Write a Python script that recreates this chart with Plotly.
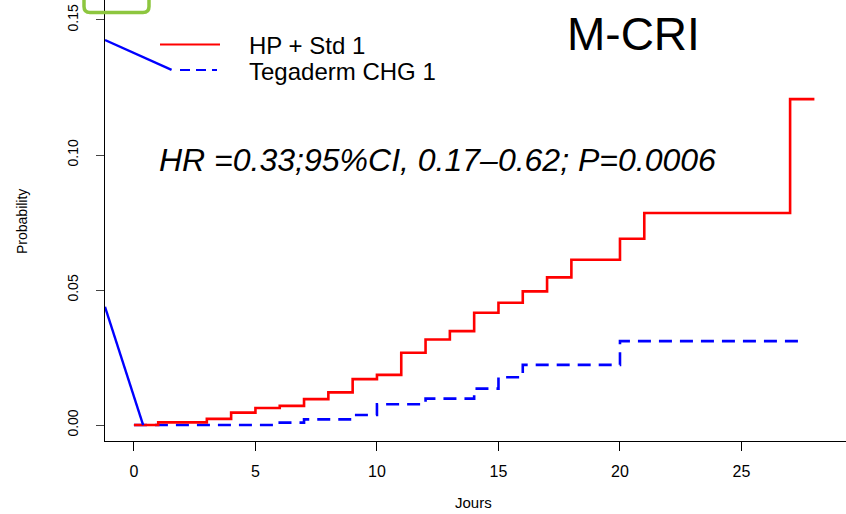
import plotly.graph_objects as go

# ---- data ----
red_days = [0, 1, 3, 4, 5, 6, 7, 8, 9, 10, 11, 12, 13, 14, 15, 16, 17, 18, 20, 21, 27, 28]
red_vals = [0, 0.001, 0.0023, 0.0046, 0.0063, 0.0071, 0.0096, 0.0121, 0.017, 0.0186,
            0.0268, 0.0317, 0.0348, 0.0416, 0.0453, 0.0495, 0.0547, 0.0612, 0.069,
            0.0785, 0.1207, 0.1207]
blue_days = [0, 6, 7, 9, 10, 12, 14, 15, 16, 20, 27.6]
blue_vals = [0, 0.0009, 0.0021, 0.0037, 0.0077, 0.0098, 0.0135, 0.0177, 0.0223, 0.0311, 0.0311]

# stray blue strokes present in the original figure
stroke1_x = [-1.19, 0.38]
stroke1_y = [0.0438, 0.0]
stroke2_x = [-1.19, 1.55]
stroke2_y = [0.1426, 0.1315]

x_ticks = [0, 5, 10, 15, 20, 25]
y_ticks = [0.0, 0.05, 0.10, 0.15]
y_tick_text = ["0.00", "0.05", "0.10", "0.15"]

legend_names = ["HP + Std 1", "Tegaderm CHG 1"]
title_text = "M-CRI"
hr_text = "HR =0.33;95%CI, 0.17\u20130.62; P=0.0006"

RED = "#FF0000"
BLUE = "#0000FF"
FONT = "Liberation Sans, Arial, sans-serif"

W, H = 846, 514
L, B = 105, 73
PW, PH = W - L, H - B

def px(xp):
    return (xp - L) / PW

def py(yp):
    return (PH - yp) / PH

fig = go.Figure()
fig.add_trace(go.Scatter(x=blue_days, y=blue_vals, mode="lines", line_shape="hv",
                         line=dict(color=BLUE, width=2.6, dash="13px,8px"),
                         showlegend=False, hoverinfo="skip"))
fig.add_trace(go.Scatter(x=red_days, y=red_vals, mode="lines", line_shape="hv",
                         line=dict(color=RED, width=2.6),
                         showlegend=False, hoverinfo="skip"))
for sx, sy in [(stroke1_x, stroke1_y), (stroke2_x, stroke2_y)]:
    fig.add_trace(go.Scatter(x=sx, y=sy, mode="lines",
                             line=dict(color=BLUE, width=2.4),
                             showlegend=False, hoverinfo="skip"))

# rounded green box (paper coords)
bx0, bx1, by0, by1, r = px(84), px(149), py(12.5), py(-20), 6
rx, ry = r / PW, r / PH
box_path = (f"M {bx0+rx},{by0} L {bx1-rx},{by0} Q {bx1},{by0} {bx1},{by0+ry} "
            f"L {bx1},{by1} L {bx0},{by1} L {bx0},{by0+ry} Q {bx0},{by0} {bx0+rx},{by0} Z")

shapes = [
    dict(type="line", xref="paper", yref="paper", x0=px(160), x1=px(220), y0=py(44.5), y1=py(44.5),
         line=dict(color=RED, width=2)),
    dict(type="line", xref="paper", yref="paper", x0=px(180), x1=px(217), y0=py(70), y1=py(70),
         line=dict(color=BLUE, width=2, dash="10px,6px")),
    dict(type="path", xref="paper", yref="paper", path=box_path,
         line=dict(color="#8DC63F", width=3.5), fillcolor="rgba(0,0,0,0)", layer="above"),
]

annotations = [
    dict(text=legend_names[0], xref="paper", yref="paper", x=px(247), y=py(45.5),
         xanchor="left", yanchor="middle", showarrow=False,
         font=dict(family=FONT, size=24, color="black")),
    dict(text=legend_names[1], xref="paper", yref="paper", x=px(247), y=py(72),
         xanchor="left", yanchor="middle", showarrow=False,
         font=dict(family=FONT, size=24, color="black")),
    dict(text=title_text, xref="paper", yref="paper", x=px(633), y=py(34),
         xanchor="center", yanchor="middle", showarrow=False,
         font=dict(family=FONT, size=46, color="black")),
    dict(text=hr_text, xref="paper", yref="paper", x=px(437), y=py(160),
         xanchor="center", yanchor="middle", showarrow=False,
         font=dict(family=FONT, size=32, color="black", style="italic")),
    dict(text="Jours", xref="paper", yref="paper", x=px(473), y=py(502),
         xanchor="center", yanchor="middle", showarrow=False,
         font=dict(family=FONT, size=15, color="black")),
    dict(text="Probability", xref="paper", yref="paper", x=px(22), y=py(222),
         xanchor="center", yanchor="middle", showarrow=False, textangle=-90,
         font=dict(family=FONT, size=14, color="black")),
]

fig.update_layout(
    width=W, height=H,
    margin=dict(l=L, r=0, t=0, b=B, pad=0),
    paper_bgcolor="white", plot_bgcolor="white",
    shapes=shapes, annotations=annotations,
    font=dict(family=FONT, color="black"),
    xaxis=dict(range=[-1.19, 29.3], tickvals=x_ticks, ticks="outside", ticklen=9,
               tickcolor="black", tickwidth=1, showline=True, linecolor="black", linewidth=1.2,
               showgrid=False, zeroline=False, tickfont=dict(family=FONT, size=16, color="black"),
               ticklabelstandoff=7),
    yaxis=dict(range=[-0.0059, 0.1574], tickvals=y_ticks, ticktext=y_tick_text,
               ticks="outside", ticklen=8, tickcolor="#444", tickwidth=1,
               showline=True, linecolor="black", linewidth=1.2, showgrid=False, zeroline=False,
               tickangle=-90, tickfont=dict(family=FONT, size=14, color="black"),
               ticklabelstandoff=12),
)

fig.write_html("out.html")
